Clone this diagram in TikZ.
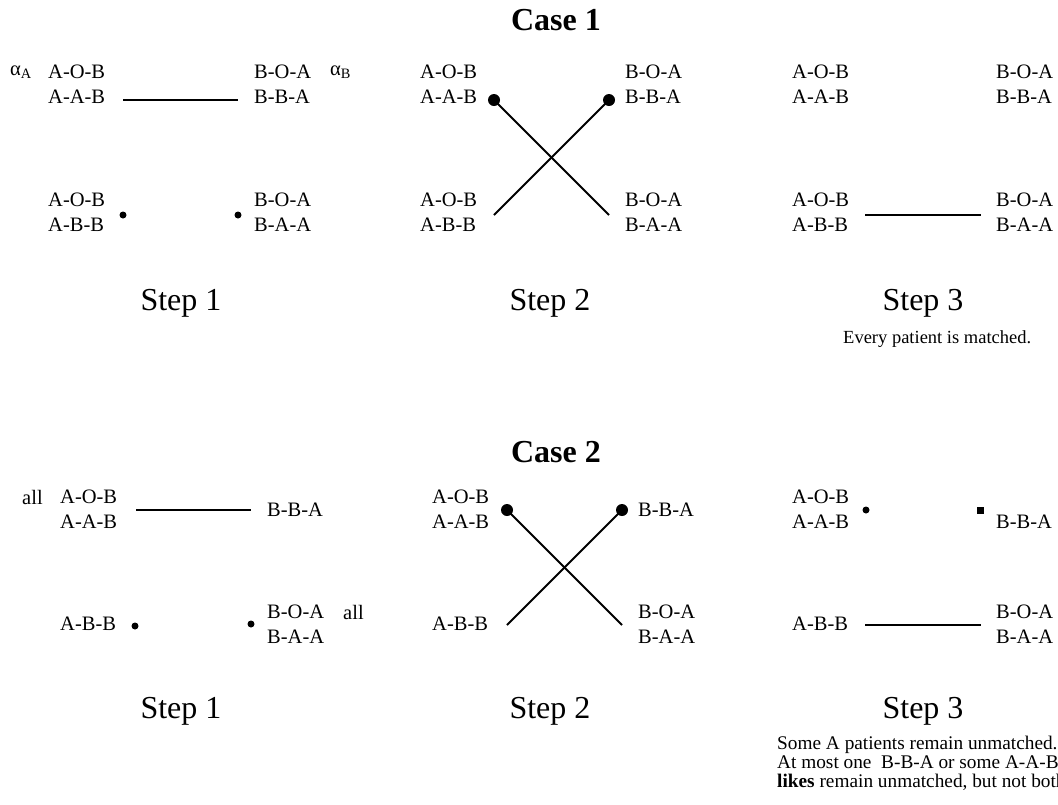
\documentclass[tikz,border=0pt]{standalone}
\usepackage{fontspec}
\setmainfont{Liberation Serif}
\begin{document}
\begin{tikzpicture}[x=1pt,y=-1pt,
  lbl/.style={font=\fontsize{20.5}{25}\selectfont, inner sep=0pt, anchor=west, align=left},
  dotS/.style={circle, fill, inner sep=0pt, minimum size=7pt},
  dotL/.style={circle, fill, inner sep=0pt, minimum size=12pt},
  sqdot/.style={rectangle, fill, inner sep=0pt, minimum size=7pt},
  link/.style={line width=2.5pt},
  xlink/.style={line width=2pt},
  stepttl/.style={font=\fontsize{32}{38}\selectfont, inner sep=0pt},
  casettl/.style={font=\bfseries\fontsize{32}{38}\selectfont, inner sep=0pt},
  note/.style={font=\fontsize{18.5}{19}\selectfont, inner sep=0pt, anchor=north west, align=left},
  notetwo/.style={font=\fontsize{19.3}{19}\selectfont, inner sep=0pt, anchor=north west, align=left}]
\fill[white] (0,0) rectangle (1058,804);
\clip (0,0) rectangle (1058,804);
% ---------- Case 1 ----------
\node[casettl] (case1) at (556,20) {Case 1};
% Step 1
\node[lbl] (alphaA) at (10,72) {α\textsubscript{A}};
\node[lbl] (c1s1tl) at (48,84.5) {A-O-B\\A-A-B};
\node[lbl] (c1s1tr) at (254,84.5) {B-O-A\\B-B-A};
\node[lbl] (alphaB) at (330,72) {α\textsubscript{B}};
\node[lbl] (c1s1bl) at (48,212) {A-O-B\\A-B-B};
\node[lbl] (c1s1br) at (254,212) {B-O-A\\B-A-A};
\coordinate (c1s1p) at (123,100);
\coordinate (c1s1q) at (238,100);
\draw[link] (c1s1p) -- (c1s1q);
\node[dotS] (c1s1d1) at (123,215) {};
\node[dotS] (c1s1d2) at (238,215) {};
\node[stepttl] (c1step1) at (181,303) {Step 1};
% Step 2
\node[lbl] (c1s2tl) at (420,84.5) {A-O-B\\A-A-B};
\node[lbl] (c1s2tr) at (625,84.5) {B-O-A\\B-B-A};
\node[lbl] (c1s2bl) at (420,212) {A-O-B\\A-B-B};
\node[lbl] (c1s2br) at (625,212) {B-O-A\\B-A-A};
\node[dotL] (c1s2d1) at (494,100) {};
\node[dotL] (c1s2d2) at (609,100) {};
\coordinate (c1s2e1) at (494,215);
\coordinate (c1s2e2) at (609,215);
\draw[xlink] (c1s2d1.center) -- (c1s2e2);
\draw[xlink] (c1s2d2.center) -- (c1s2e1);
\node[stepttl] (c1step2) at (550,303) {Step 2};
% Step 3
\node[lbl] (c1s3tl) at (792,84.5) {A-O-B\\A-A-B};
\node[lbl] (c1s3tr) at (996,84.5) {B-O-A\\B-B-A};
\node[lbl] (c1s3bl) at (792,212) {A-O-B\\A-B-B};
\node[lbl] (c1s3br) at (996,212) {B-O-A\\B-A-A};
\coordinate (c1s3p) at (865,215);
\coordinate (c1s3q) at (981,215);
\draw[link] (c1s3p) -- (c1s3q);
\node[stepttl] (c1step3) at (923,303) {Step 3};
\node[note] (c1note) at (843,330) {Every patient is matched.};
% ---------- Case 2 ----------
\node[casettl] (case2) at (556,452) {Case 2};
% Step 1
\node[lbl] (all1) at (22,497) {all};
\node[lbl] (c2s1tl) at (60,509.5) {A-O-B\\A-A-B};
\node[lbl] (c2s1tr) at (267,510) {B-B-A};
\node[lbl] (c2s1bl) at (60,624) {A-B-B};
\node[lbl] (c2s1br) at (267,624.5) {B-O-A\\B-A-A};
\node[lbl] (all2) at (343,612) {all};
\coordinate (c2s1p) at (136,510);
\coordinate (c2s1q) at (251,510);
\draw[link] (c2s1p) -- (c2s1q);
\node[dotS] (c2s1d1) at (135,626) {};
\node[dotS] (c2s1d2) at (251,624) {};
\node[stepttl] (c2step1) at (181,711) {Step 1};
% Step 2
\node[lbl] (c2s2tl) at (432,509.5) {A-O-B\\A-A-B};
\node[lbl] (c2s2tr) at (638,510) {B-B-A};
\node[lbl] (c2s2bl) at (432,624) {A-B-B};
\node[lbl] (c2s2br) at (638,624.5) {B-O-A\\B-A-A};
\node[dotL] (c2s2d1) at (507,510) {};
\node[dotL] (c2s2d2) at (622,510) {};
\coordinate (c2s2e1) at (507,625);
\coordinate (c2s2e2) at (622,625);
\draw[xlink] (c2s2d1.center) -- (c2s2e2);
\draw[xlink] (c2s2d2.center) -- (c2s2e1);
\node[stepttl] (c2step2) at (550,711) {Step 2};
% Step 3
\node[lbl] (c2s3tl) at (792,509.5) {A-O-B\\A-A-B};
\node[lbl] (c2s3tr) at (996,522) {B-B-A};
\node[lbl] (c2s3bl) at (792,624) {A-B-B};
\node[lbl] (c2s3br) at (996,624.5) {B-O-A\\B-A-A};
\node[dotS] (c2s3d1) at (866,510) {};
\node[sqdot] (c2s3d2) at (980,510) {};
\coordinate (c2s3p) at (865,625);
\coordinate (c2s3q) at (981,625);
\draw[link] (c2s3p) -- (c2s3q);
\node[stepttl] (c2step3) at (923,711) {Step 3};
\node[notetwo] (c2note) at (777,736) {Some A patients remain unmatched.\\At most one\ \ B-B-A or some A-A-B\\\textbf{likes} remain unmatched, but not both};
\end{tikzpicture}
\end{document}
